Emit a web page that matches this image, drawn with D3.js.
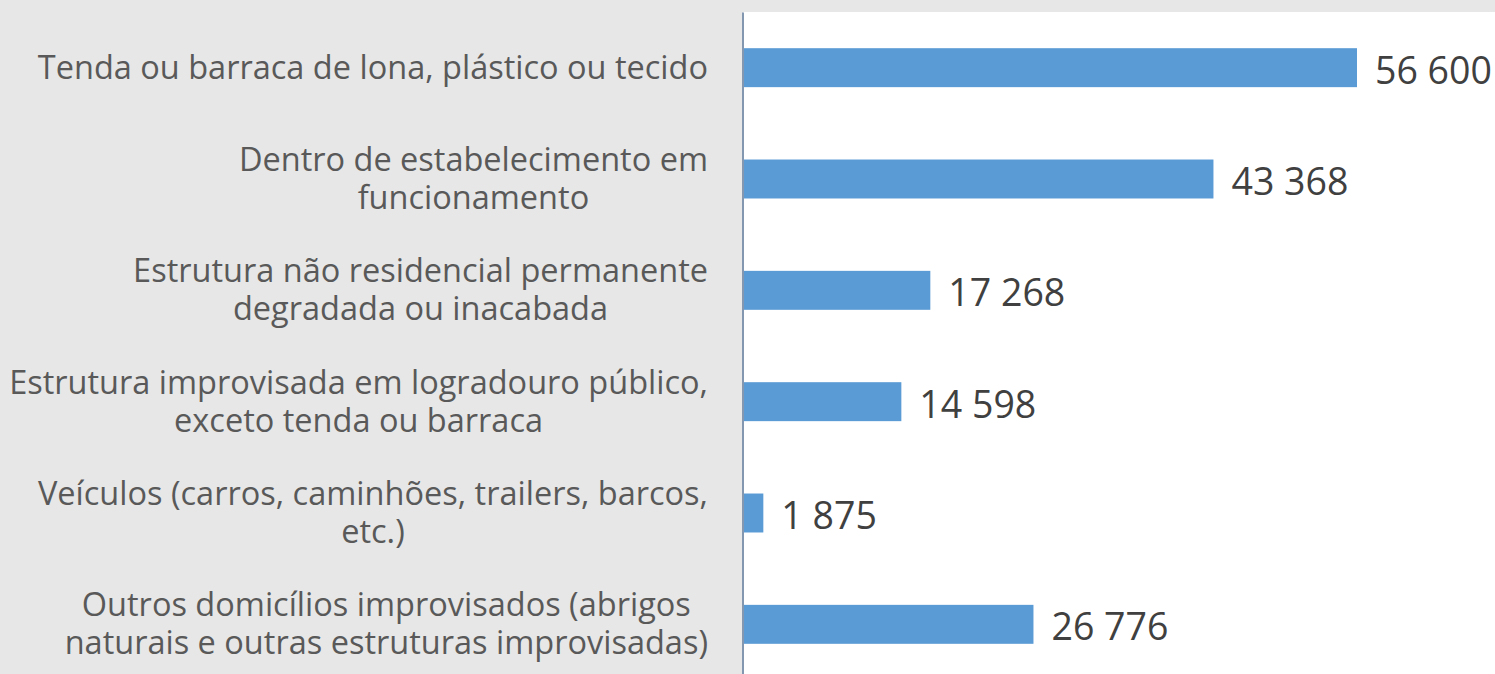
<!DOCTYPE html>
<html>
<head>
<meta charset="utf-8">
<script src="https://cdn.jsdelivr.net/npm/d3@7"></script>
<style>
  html, body { margin: 0; padding: 0; background: #e7e7e7; }
  svg { display: block; }
  .cat { font-family: "Open Sans", sans-serif; font-size: 32.5px; fill: #595959; }
  .val { font-family: "Open Sans", sans-serif; font-size: 37.5px; fill: #404040; }
</style>
</head>
<body>
<svg id="chart" width="1495" height="674"></svg>
<script>
// categories, as the chart wraps them
var categories = [
  ["Tenda ou barraca de lona, plástico ou tecido"],
  ["Dentro de estabelecimento em", "funcionamento"],
  ["Estrutura não residencial permanente", "degradada ou inacabada"],
  ["Estrutura improvisada em logradouro público,", "exceto tenda ou barraca"],
  ["Veículos (carros, caminhões, trailers, barcos,", "etc.)"],
  ["Outros domicílios improvisados (abrigos", "naturais e outras estruturas improvisadas)"]
];
var values = [56600, 43368, 17268, 14598, 1875, 26776];

var W = 1495, H = 674;
var plotLeft = 743, plotTop = 12, plotBottom = 680;
var labelRight = 708;
var lineH = 38;

var fmt = d3.formatLocale({decimal: ",", thousands: " ", grouping: [3], currency: ["", ""]}).format(",d");

var svg = d3.select("#chart");

// white plot area
svg.append("rect")
  .attr("x", plotLeft).attr("y", plotTop)
  .attr("width", W - plotLeft).attr("height", H - plotTop)
  .attr("fill", "#ffffff");

var keys = categories.map(function(d, i){ return "c" + i; });

var y = d3.scaleBand()
  .domain(keys)
  .range([plotTop, plotBottom])
  .paddingInner(0.65)
  .paddingOuter(0.325);

var x = d3.scaleLinear()
  .domain([0, 56600])
  .range([plotLeft, 1357]);

svg.selectAll("rect.bar")
  .data(values)
  .enter().append("rect")
  .attr("class", "bar")
  .attr("x", x(0))
  .attr("y", function(d, i){ return y(keys[i]); })
  .attr("width", function(d){ return x(d) - x(0); })
  .attr("height", y.bandwidth())
  .attr("fill", "#5b9bd5");

// value labels
svg.selectAll("text.val")
  .data(values)
  .enter().append("text")
  .attr("class", "val")
  .attr("x", function(d){ return x(d) + 18; })
  .attr("y", function(d, i){ return y(keys[i]) + y.bandwidth() / 2 + 16; })
  .text(function(d){ return fmt(d); });

// category labels: lines centred inside a block that is right aligned
categories.forEach(function(lines, i){
  var cy = y(keys[i]) + y.bandwidth() / 2;
  var t = svg.append("text").attr("class", "cat").attr("text-anchor", "middle");
  var spans = lines.map(function(l, j){
    return t.append("tspan")
      .attr("y", cy + 11 + (j - (lines.length - 1) / 2) * lineH)
      .text(l);
  });
  var maxW = d3.max(spans, function(s){ return s.node().getComputedTextLength(); });
  spans.forEach(function(s){ s.attr("x", labelRight - maxW / 2); });
});

// category axis line
var axis = d3.axisLeft(y).tickSize(0).tickFormat("");
svg.append("g")
  .attr("transform", "translate(" + (plotLeft - 0.5) + ",0)")
  .call(axis)
  .call(function(g){
    g.select(".domain").attr("stroke", "#8497b0").attr("stroke-width", 2);
  });
</script>
</body>
</html>
